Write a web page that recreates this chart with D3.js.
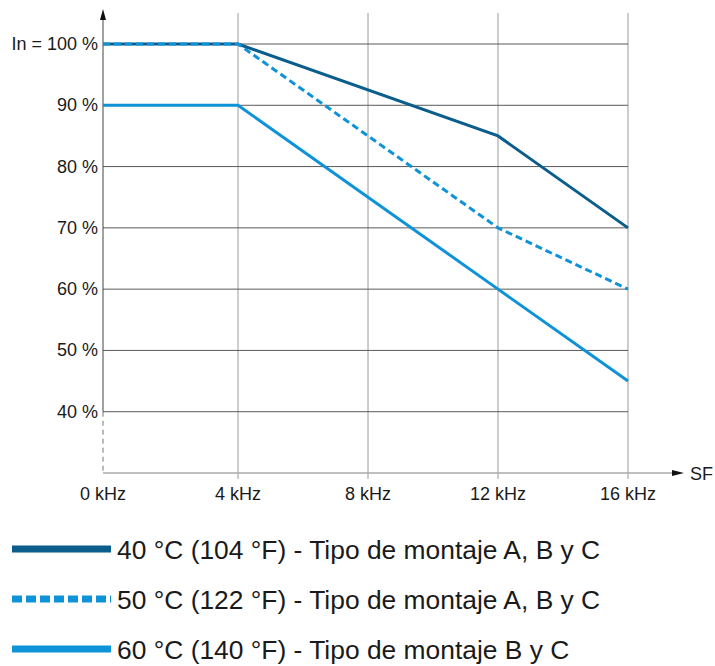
<!DOCTYPE html>
<html>
<head>
<script src="https://d3js.org/d3.v7.min.js"></script>
<style>
body { margin: 0; background: #fff; }
text { font-family: "Liberation Sans", Arial, sans-serif; fill: #1a1a1a; }
</style>
</head>
<body>
<svg id="chart" width="715" height="666"></svg>
<script>
// switching frequency in kHz
var freqs = [0, 4, 12, 16];
var xTicks = [0, 4, 8, 12, 16];
var yTicks = [40, 50, 60, 70, 80, 90, 100];
var yTickLabels = ["40 %", "50 %", "60 %", "70 %", "80 %", "90 %", "In = 100 %"];

var series40 = [100, 100, 85, 70];
var series50 = [100, 100, 70, 60];
var series60 = [90, 90, 60, 45];

var legendLabels = [
  "40 °C (104 °F) - Tipo de montaje A, B y C",
  "50 °C (122 °F) - Tipo de montaje A, B y C",
  "60 °C (140 °F) - Tipo de montaje B y C"
];

var svg = d3.select("#chart");

// first interval drawn a bit wider in the original
var x = d3.scaleLinear().domain([0, 4, 16]).range([103, 238, 628]);
var y = d3.scaleLinear().domain([30, 100]).range([473, 44]);

// vertical grid (lighter)
svg.append("g").selectAll("line")
  .data(xTicks.slice(1))
  .enter().append("line")
  .attr("x1", function(d){ return x(d); })
  .attr("x2", function(d){ return x(d); })
  .attr("y1", 13)
  .attr("y2", 479)
  .attr("stroke", "#9a9a9a")
  .attr("stroke-width", 1);

// horizontal grid (darker)
svg.append("g").selectAll("line")
  .data(yTicks)
  .enter().append("line")
  .attr("x1", x(0))
  .attr("x2", x(16))
  .attr("y1", function(d){ return y(d); })
  .attr("y2", function(d){ return y(d); })
  .attr("stroke", "#5a5a5a")
  .attr("stroke-width", 1);

// y axis: solid above 40 %, dashed below
svg.append("line")
  .attr("x1", x(0)).attr("x2", x(0))
  .attr("y1", 18).attr("y2", y(40))
  .attr("stroke", "#444").attr("stroke-width", 1);
svg.append("line")
  .attr("x1", x(0)).attr("x2", x(0))
  .attr("y1", y(40)).attr("y2", y(30))
  .attr("stroke", "#777").attr("stroke-width", 1)
  .attr("stroke-dasharray", "5,4");
svg.append("path")
  .attr("d", "M" + x(0) + ",9 L" + (x(0) - 3) + ",20 L" + (x(0) + 3) + ",20 Z")
  .attr("fill", "#111");

// x axis
svg.append("line")
  .attr("x1", x(0)).attr("x2", 674)
  .attr("y1", y(30)).attr("y2", y(30))
  .attr("stroke", "#aaa").attr("stroke-width", 1.5);
svg.append("path")
  .attr("d", "M684," + y(30) + " L672," + (y(30) - 3) + " L672," + (y(30) + 3) + " Z")
  .attr("fill", "#111");
svg.append("text")
  .attr("x", 690).attr("y", y(30) + 7)
  .style("font-size", "18px")
  .text("SF");

// tick labels
svg.append("g").selectAll("text")
  .data(xTicks)
  .enter().append("text")
  .attr("x", function(d){ return x(d); })
  .attr("y", 500)
  .attr("text-anchor", "middle")
  .style("font-size", "18px")
  .text(function(d){ return d + " kHz"; });

svg.append("g").selectAll("text")
  .data(yTicks)
  .enter().append("text")
  .attr("x", 98)
  .attr("y", function(d){ return y(d) + 6; })
  .attr("text-anchor", "end")
  .style("font-size", "18px")
  .text(function(d, i){ return yTickLabels[i]; });

// curves
var line = d3.line()
  .x(function(d){ return x(d[0]); })
  .y(function(d){ return y(d[1]); });

var curves = [
  { values: series40, color: "#0b5d8c", dash: null },
  { values: series50, color: "#0f93d8", dash: "7,4" },
  { values: series60, color: "#0f93d8", dash: null }
];

curves.forEach(function(c){
  svg.append("path")
    .datum(freqs.map(function(f, i){ return [f, c.values[i]]; }))
    .attr("d", line)
    .attr("fill", "none")
    .attr("stroke", c.color)
    .attr("stroke-width", 3)
    .attr("stroke-dasharray", c.dash);
});

// legend
var legend = svg.append("g").selectAll("g")
  .data(legendLabels)
  .enter().append("g")
  .attr("transform", function(d, i){ return "translate(0," + (549 + i * 50) + ")"; });

legend.append("line")
  .attr("x1", 12).attr("x2", 111)
  .attr("y1", 0).attr("y2", 0)
  .attr("stroke", function(d, i){ return curves[i].color; })
  .attr("stroke-width", 7)
  .attr("stroke-dasharray", function(d, i){ return i === 1 ? "10,4" : null; });

legend.append("text")
  .attr("x", 117)
  .attr("y", 10)
  .style("font-size", "26.4px")
  .text(function(d){ return d; });
</script>
</body>
</html>
